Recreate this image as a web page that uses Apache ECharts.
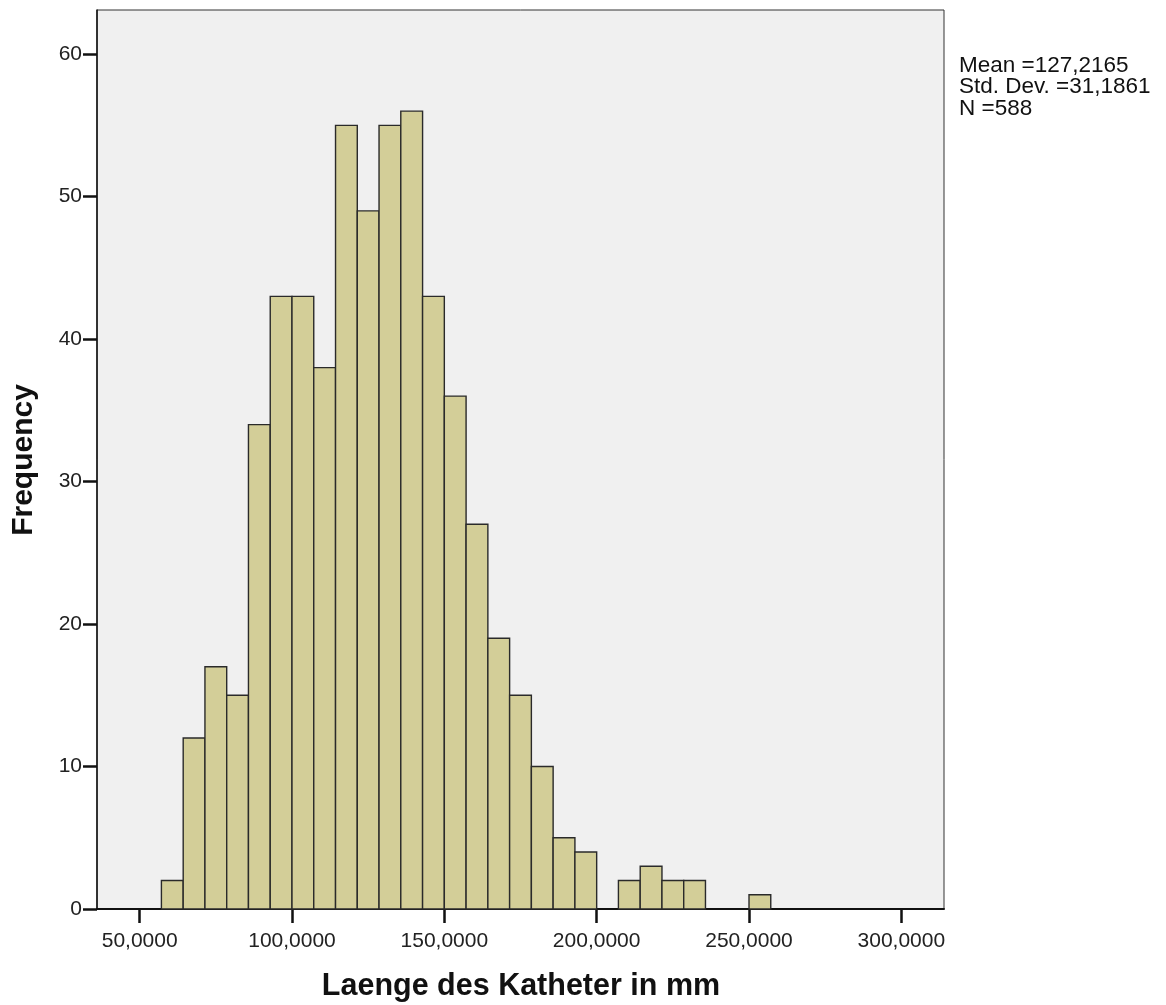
<!DOCTYPE html>
<html>
<head>
<meta charset="utf-8">
<script src="https://cdn.jsdelivr.net/npm/echarts@6/dist/echarts.min.js"></script>
<style>html,body{margin:0;padding:0;background:#fff}#c{width:1166px;height:1005px}</style>
</head>
<body>
<div id="c"></div>
<script>
// Histogram bin edges (Laenge des Katheter in mm)
var binEdges = [57.14, 64.29, 71.43, 78.57, 85.71, 92.86, 100, 107.14, 114.29, 121.43,
  128.57, 135.71, 142.86, 150, 157.14, 164.29, 171.43, 178.57, 185.71, 192.86,
  200, 207.14, 214.29, 221.43, 228.57, 235.71, 242.86, 250, 257.14];
// Frequencies per bin
var counts = [2, 12, 17, 15, 34, 43, 43, 38, 55, 49, 55, 56, 43, 36, 27, 19, 15, 10, 5, 4,
  0, 2, 3, 2, 2, 0, 0, 1];
var xTicks = [50, 100, 150, 200, 250, 300];
var yTicks = [0, 10, 20, 30, 40, 50, 60];
var statsLines = ['Mean =127,2165', 'Std. Dev. =31,1861', 'N =588'];
var xTitle = 'Laenge des Katheter in mm';
var yTitle = 'Frequency';

var data = [];
for (var i = 0; i < counts.length; i++) {
  if (counts[i] > 0) data.push([binEdges[i], binEdges[i + 1], counts[i]]);
}

var chart = echarts.init(document.getElementById('c'), null, {renderer: 'canvas'});
var font = '"Liberation Sans", Arial, sans-serif';
chart.setOption({
  animation: false,
  grid: {left: 97, right: 222, top: 10, bottom: 96, show: true, backgroundColor: '#f0f0f0',
    borderColor: '#333', borderWidth: 1},
  xAxis: {
    type: 'value', min: 36, max: 314,
    splitLine: {show: false},
    axisLine: {show: true, onZero: false, lineStyle: {color: '#111', width: 2}},
    axisTick: {show: true, length: 14, lineStyle: {color: '#111', width: 2.5}, customValues: xTicks},
    axisLabel: {fontFamily: font, fontSize: 21, color: '#222', margin: 22, customValues: xTicks,
      formatter: function (v) { return v.toFixed(4).replace('.', ','); }}
  },
  yAxis: {
    type: 'value', min: 0, max: 63.1,
    splitLine: {show: false},
    axisLine: {show: true, lineStyle: {color: '#111', width: 1.5}},
    axisTick: {show: true, length: 14, lineStyle: {color: '#111', width: 2.5}, customValues: yTicks},
    axisLabel: {fontFamily: font, fontSize: 21, color: '#222', margin: 15, customValues: yTicks}
  },
  series: [{
    type: 'custom',
    encode: {x: [0, 1], y: 2},
    data: data,
    renderItem: function (params, api) {
      var p0 = api.coord([api.value(0), api.value(2)]);
      var p1 = api.coord([api.value(1), 0]);
      return {
        type: 'rect',
        shape: {x: p0[0], y: p0[1], width: p1[0] - p0[0], height: p1[1] - p0[1]},
        style: {fill: '#d3ce98', stroke: '#2a2a2a', lineWidth: 1.4}
      };
    }
  }],
  graphic: [
    {type: 'text', x: 959, y: 55, style: {text: statsLines.join('\n'), font: '22.5px ' + font,
      fill: '#111', lineHeight: 21.5}},
    {type: 'text', x: 521, y: 987, style: {text: xTitle, font: 'bold 30.5px ' + font,
      fill: '#111', align: 'center', verticalAlign: 'middle'}},
    {type: 'text', x: 24, y: 460, rotation: Math.PI / 2, style: {text: yTitle,
      font: 'bold 30px ' + font, fill: '#111', align: 'center', verticalAlign: 'middle'}}
  ]
});
</script>
</body>
</html>
